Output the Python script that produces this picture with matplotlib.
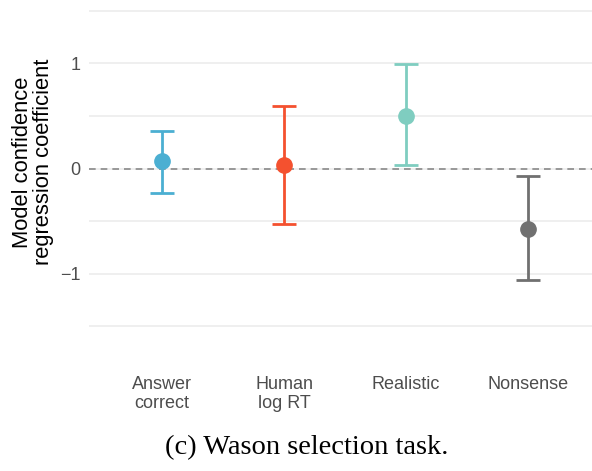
import matplotlib
matplotlib.use("Agg")
import matplotlib.pyplot as plt
import numpy as np

# 予測変数ごとの回帰係数と信頼区間
labels = ["Answer\ncorrect", "Human\nlog RT", "Realistic", "Nonsense"]
coef = [0.07, 0.03, 0.50, -0.57]
lower = [-0.23, -0.53, 0.03, -1.06]
upper = [0.36, 0.59, 0.99, -0.07]
colors = ["#4BAFD2", "#F4512F", "#7FCDC0", "#707070"]

plt.rcParams["font.family"] = ["Liberation Sans", "DejaVu Sans"]

fig = plt.figure(figsize=(5.92, 4.71), dpi=100)
# 右端は図の外まで伸ばす
ax = fig.add_axes([89 / 592, 1 - 337 / 471, 512 / 592, 337 / 471])
ax.set_axisbelow(True)

x = np.arange(1, len(labels) + 1)
ax.axhline(0, color="#8A8A8A", lw=1.2, ls=(0, (4, 3)), zorder=2)

for xi, c, lo, hi, col in zip(x, coef, lower, upper, colors):
    ax.errorbar(xi, c, yerr=[[c - lo], [hi - c]], fmt="o", color=col,
                ms=11, elinewidth=2.0, capsize=8.6, capthick=2.0, zorder=3)

ax.set_xlim(0.4, 4.6)
ax.set_ylim(-1.6, 1.6)
ax.set_xticks(x)
ax.set_xticklabels(labels, fontsize=13, color="#4D4D4D", linespacing=1.2)
ax.set_yticks([-1, 0, 1])
ax.set_yticklabels(["\u22121", "0", "1"], fontsize=13, color="#4D4D4D")
ax.set_yticks([-1.5, -0.5, 0.5, 1.5], minor=True)
ax.grid(True, which="both", axis="y", color="#EBEBEB", lw=1.1)
ax.tick_params(axis="both", which="both", length=0)
ax.tick_params(axis="x", pad=28)
ax.tick_params(axis="y", pad=6)
for s in ax.spines.values():
    s.set_visible(False)

fig.text(33 / 592, 1 - 162 / 471, "Model confidence\nregression coefficient",
         rotation=90, ha="center", va="center", fontsize=15.8,
         linespacing=1.0)

fig.text(0.518, 1 - 448 / 471, "(c) Wason selection task.",
         ha="center", va="center", fontsize=20.5,
         family=["Liberation Serif", "DejaVu Serif"])

fig.savefig("out.png", dpi=100)
